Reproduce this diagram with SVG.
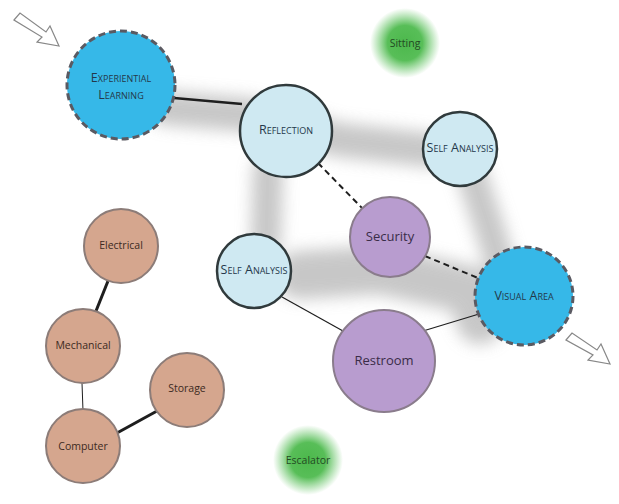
<svg xmlns="http://www.w3.org/2000/svg" width="619" height="504" viewBox="0 0 619 504">
<defs>
<filter id="blur" x="-20%" y="-20%" width="140%" height="140%"><feGaussianBlur stdDeviation="8"/></filter>
<radialGradient id="green"><stop offset="0" stop-color="#4cb84c"/><stop offset="0.5" stop-color="#58be58"/><stop offset="1" stop-color="#6cc86c" stop-opacity="0"/></radialGradient>
</defs>
<style>
text{font-family:"Open Sans","Liberation Sans",sans-serif;text-anchor:middle;dominant-baseline:central}
.sc{font-variant:small-caps;font-size:12.5px;fill:#24384a}
.bright{fill:#36b8e8;stroke:#5a5a62;stroke-width:3;stroke-dasharray:7 4}
.light{fill:#cfe9f2;stroke:#303a3c;stroke-width:2.5}
.purple{fill:#b89ccf;stroke:#8a7c8c;stroke-width:2}
.pt{font-size:13px;fill:#3a2c48}
.brown{fill:#d5a68e;stroke:#8c7c78;stroke-width:2}
.bt{font-size:10.5px;fill:#3c2a22}
.gt{font-size:10.5px;fill:#234a23}
.c{fill:none;stroke:#1e1e1e}
.arrow{fill:#fff;stroke:#888;stroke-width:1.2}
</style>
<rect width="619" height="504" fill="#fff"/>
<g id="shadow" filter="url(#blur)" fill="none" stroke="#b0b0b0" stroke-linecap="round" stroke-linejoin="round" opacity="0.7">
<path d="M165 108 L250 115 L340 140 L430 150" stroke-width="34"/>
<path d="M470 170 L490 230 L505 280" stroke-width="30"/>
<path d="M268 170 L266 240" stroke-width="30"/>
<path d="M300 275 L380 270 L470 290 L480 320" stroke-width="48"/>
</g>
<g id="connectors">
<line class="c" x1="174" y1="98" x2="242" y2="104" stroke-width="2.5"/>
<line class="c" x1="318" y1="163" x2="362" y2="208" stroke-width="2" stroke-dasharray="6 4"/>
<line class="c" x1="425" y1="256" x2="478" y2="278" stroke-width="2" stroke-dasharray="6 4"/>
<line class="c" x1="282" y1="297" x2="343" y2="331" stroke-width="1.2"/>
<line class="c" x1="423" y1="331" x2="479" y2="314" stroke-width="1.2"/>
<line class="c" x1="108" y1="281" x2="96" y2="311" stroke-width="3"/>
<line class="c" x1="82" y1="383" x2="83" y2="411" stroke-width="1" stroke="#555"/>
<line class="c" x1="117" y1="433" x2="157" y2="411" stroke-width="3"/>
</g>
<g id="arrow-tl"><path class="arrow" d="M14 20 L20 13 L46 32 L50 26 L59 46 L37 42 L42 37 Z"/></g>
<g id="arrow-br"><path class="arrow" d="M566 340 L572 333 L597 350 L601 344 L610 364 L588 360 L593 355 Z"/></g>
<g id="sitting"><circle cx="405" cy="43" r="35" fill="url(#green)"/><text class="gt" x="405" y="43">Sitting</text></g>
<g id="escalator"><circle cx="308" cy="460" r="35" fill="url(#green)"/><text class="gt" x="308" y="460">Escalator</text></g>
<g id="experiential-learning"><circle class="bright" cx="121" cy="85" r="54"/><text class="sc" x="121" y="77">Experiential</text><text class="sc" x="121" y="94">Learning</text></g>
<g id="reflection"><circle class="light" cx="286" cy="131" r="46"/><text class="sc" x="286" y="129">Reflection</text></g>
<g id="self-analysis-1"><circle class="light" cx="460" cy="149" r="37"/><text class="sc" x="460" y="147" font-size="11.5">Self Analysis</text></g>
<g id="security"><circle class="purple" cx="390" cy="237" r="40"/><text class="pt" x="390" y="236">Security</text></g>
<g id="self-analysis-2"><circle class="light" cx="254" cy="271" r="37"/><text class="sc" x="254" y="269" font-size="11.5">Self Analysis</text></g>
<g id="visual-area"><circle class="bright" cx="524" cy="296" r="49"/><text class="sc" x="524" y="295">Visual Area</text></g>
<g id="restroom"><circle class="purple" cx="384" cy="361" r="51"/><text class="pt" x="384" y="360">Restroom</text></g>
<g id="electrical"><circle class="brown" cx="121" cy="246" r="37"/><text class="bt" x="121" y="245">Electrical</text></g>
<g id="mechanical"><circle class="brown" cx="83" cy="346" r="37"/><text class="bt" x="83" y="345">Mechanical</text></g>
<g id="storage"><circle class="brown" cx="187" cy="390" r="37"/><text class="bt" x="187" y="388">Storage</text></g>
<g id="computer"><circle class="brown" cx="83" cy="446" r="37"/><text class="bt" x="83" y="446">Computer</text></g>
</svg>
